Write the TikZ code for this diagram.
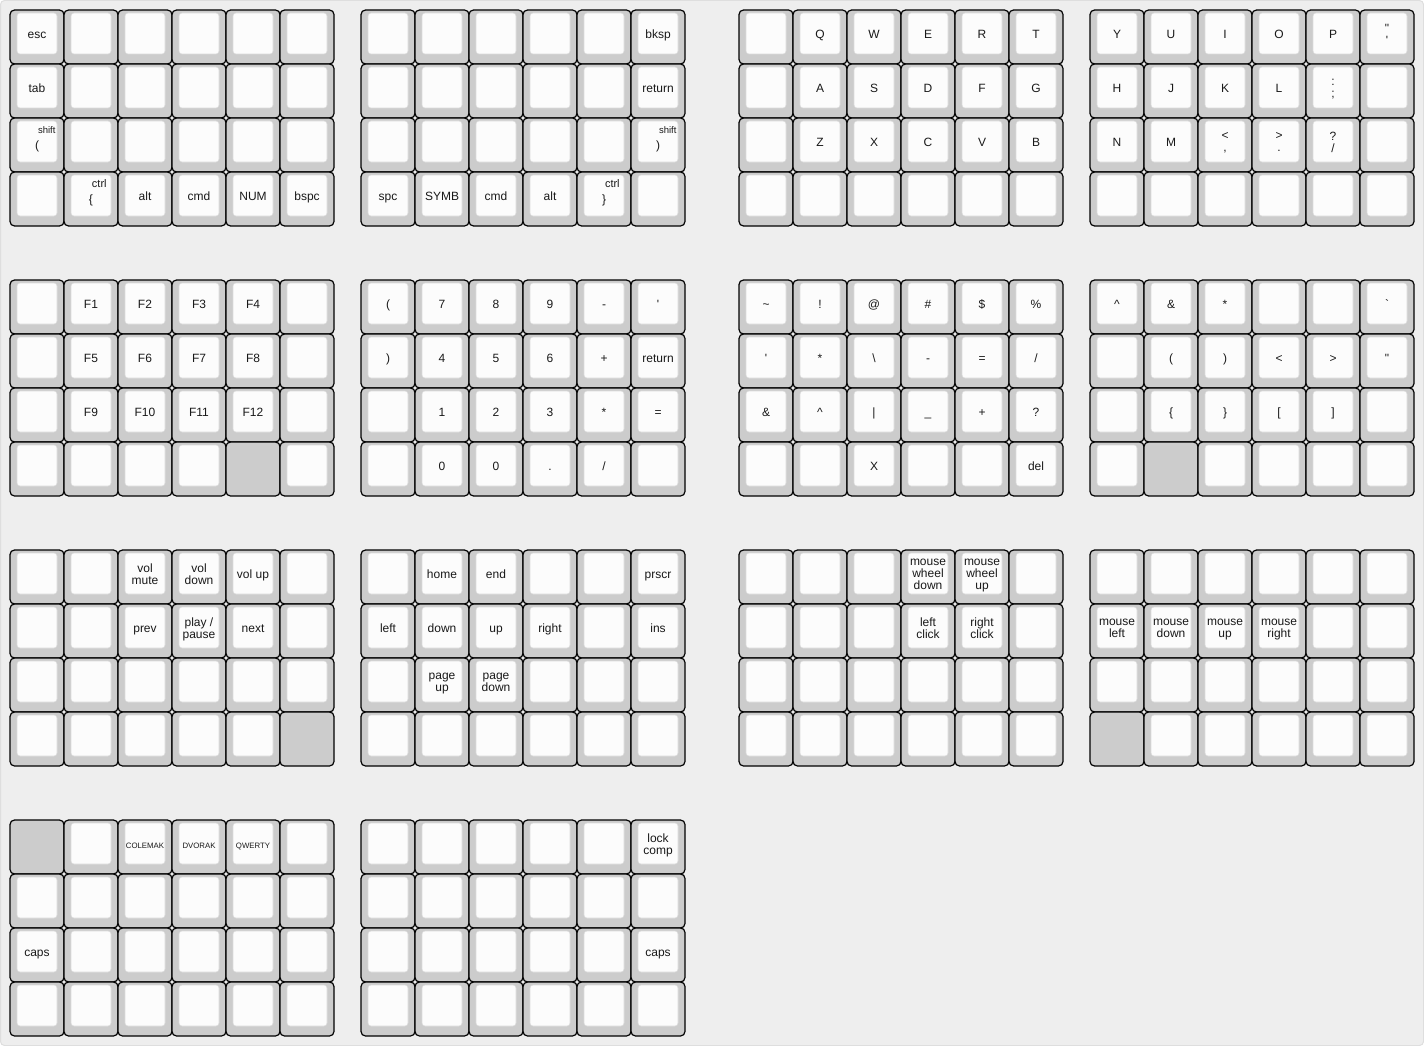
\documentclass[tikz,border=0pt]{standalone}
\usepackage{fontspec}
\newfontfamily\keyfont{Liberation Sans}
\usetikzlibrary{positioning,calc}

\definecolor{panelbg}{HTML}{EEEEEE}
\definecolor{capgray}{HTML}{CCCCCC}
\definecolor{topwhite}{HTML}{FCFCFC}

% small legend above the main legend
\newcommand\modkey[3][9.5]{\makebox[0pt][l]{\hspace{3pt}\raisebox{13pt}[0pt][0pt]{\fontsize{#1}{#1}\selectfont #2}}\raisebox{-3pt}[\height][\depth]{#3}}
\newcommand\layname[1]{{\fontsize{7.8}{8}\selectfont #1}}
\newcommand\openp{(}
\newcommand\closep{)}
\edef\graymark{\detokenize{GRAY}}

% one half of a layer: name, left, top, four rows of six legends
\newcommand\kbhalf[7]{%
  \foreach \rowlist [count=\kr] in {{#4},{#5},{#6},{#7}}{
    \foreach \lbl [count=\kc] in \rowlist{
      \node[keycap] (#1-\kr-\kc) at ({#2+54*\kc-27},{#3+54*\kr-27}) {};
      \edef\tmplbl{\detokenize\expandafter{\lbl}}%
      \ifx\tmplbl\graymark\else
        \node[keytop] (#1-\kr-\kc-top) at ($(#1-\kr-\kc.center)+(0,-3.5)$) {};
        \node[keylabel] (#1-\kr-\kc-label) at ($(#1-\kr-\kc-top.center)+(0,1.8)$) {\lbl};
      \fi
    }
  }%
}

\begin{document}
\begin{tikzpicture}[
  x=1pt, y=-1pt,
  panel/.style={fill=panelbg, draw=black!13, line width=1pt, rounded corners=4pt},
  keycap/.style={draw=black, line width=1.2pt, fill=capgray, rounded corners=4.5pt,
                 minimum width=54pt, minimum height=54pt, inner sep=0pt},
  keytop/.style={draw=black!14, line width=0.6pt, fill=topwhite, rounded corners=3pt,
                 minimum width=40pt, minimum height=41pt, inner sep=0pt},
  keylabel/.style={inner sep=0pt, align=center, text=black!90,
                   font=\keyfont\fontsize{12}{12}\selectfont,
                   execute at begin node={\rule{0pt}{8.6pt}},
                   execute at end node={\rule[-2.5pt]{0pt}{0pt}}}
]
\useasboundingbox (0,0) rectangle (1424,1046);
\draw[panel] (0.5,0.5) rectangle (1423.5,1045.5);

% base layer
\kbhalf{baseL}{10}{10}
  {esc,{},{},{},{},{}}
  {tab,{},{},{},{},{}}
  {\modkey{shift}{(},{},{},{},{},{}}
  {{},\modkey[11]{ctrl}{\{},alt,cmd,NUM,bspc}
\kbhalf{baseR}{361}{10}
  {{},{},{},{},{},bksp}
  {{},{},{},{},{},return}
  {{},{},{},{},{},\modkey{shift}{)}}
  {spc,SYMB,cmd,alt,\modkey[11]{ctrl}{\}},{}}
\kbhalf{qwertyL}{739}{10}
  {{},Q,W,E,R,T}
  {{},A,S,D,F,G}
  {{},Z,X,C,V,B}
  {{},{},{},{},{},{}}
\kbhalf{qwertyR}{1090}{10}
  {Y,U,I,O,P,{\textquotedbl\\\textquotesingle}}
  {H,J,K,L,{:\\;},{}}
  {N,M,{<\\,},{>\\.},{?\\/},{}}
  {{},{},{},{},{},{}}

% function, number and symbol layers
\kbhalf{fnL}{10}{280}
  {{},F1,F2,F3,F4,{}}
  {{},F5,F6,F7,F8,{}}
  {{},F9,F10,F11,F12,{}}
  {{},{},{},{},GRAY,{}}
\kbhalf{numR}{361}{280}
  {\openp,7,8,9,-,\textquotesingle}
  {\closep,4,5,6,+,return}
  {{},1,2,3,*,=}
  {{},0,0,.,/,{}}
\kbhalf{symL}{739}{280}
  {\textasciitilde,!,@,\#,\$,\%}
  {\textquotesingle,*,\textbackslash,-,=,/}
  {\&,\textasciicircum,\textbar,\_,+,?}
  {{},{},X,{},{},del}
\kbhalf{symR}{1090}{280}
  {\textasciicircum,\&,*,{},{},\textasciigrave}
  {{},\openp,\closep,<,>,\textquotedbl}
  {{},\{,\},{[},{]},{}}
  {{},GRAY,{},{},{},{}}

% media, navigation and mouse layers
\kbhalf{mediaL}{10}{550}
  {{},{},{vol\\mute},{vol\\down},vol up,{}}
  {{},{},prev,{play /\\pause},next,{}}
  {{},{},{},{},{},{}}
  {{},{},{},{},{},GRAY}
\kbhalf{navR}{361}{550}
  {{},home,end,{},{},prscr}
  {left,down,up,right,{},ins}
  {{},{page\\up},{page\\down},{},{},{}}
  {{},{},{},{},{},{}}
\kbhalf{mouseL}{739}{550}
  {{},{},{},{mouse\\wheel\\down},{mouse\\wheel\\up},{}}
  {{},{},{},{left\\click},{right\\click},{}}
  {{},{},{},{},{},{}}
  {{},{},{},{},{},{}}
\kbhalf{mouseR}{1090}{550}
  {{},{},{},{},{},{}}
  {{mouse\\left},{mouse\\down},{mouse\\up},{mouse\\right},{},{}}
  {{},{},{},{},{},{}}
  {GRAY,{},{},{},{},{}}

% settings layer
\kbhalf{setL}{10}{820}
  {GRAY,{},\layname{COLEMAK},\layname{DVORAK},\layname{QWERTY},{}}
  {{},{},{},{},{},{}}
  {caps,{},{},{},{},{}}
  {{},{},{},{},{},{}}
\kbhalf{setR}{361}{820}
  {{},{},{},{},{},{lock\\comp}}
  {{},{},{},{},{},{}}
  {{},{},{},{},{},caps}
  {{},{},{},{},{},{}}
\end{tikzpicture}
\end{document}
